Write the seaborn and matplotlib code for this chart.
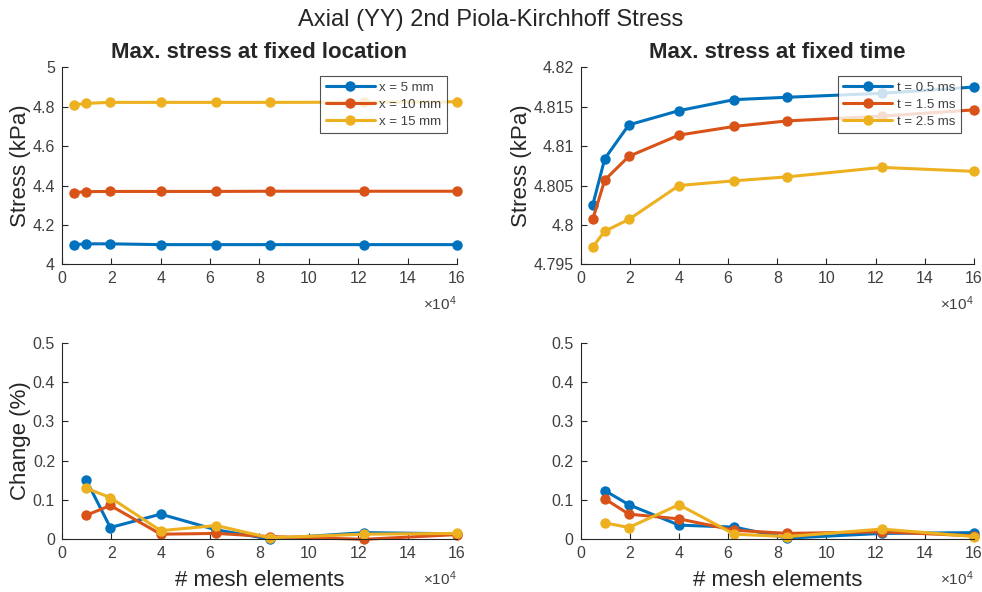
import numpy as np
import pandas as pd
import matplotlib
matplotlib.use("Agg")
import matplotlib.pyplot as plt
from matplotlib.ticker import FuncFormatter, FixedLocator
import seaborn as sns

# Mesh sizes (number of elements)
elements = [4900, 9801, 19600, 40000, 62500, 84100, 122500, 160000]

# Max. stress at fixed location (kPa)
loc_labels = ["x = 5 mm", "x = 10 mm", "x = 15 mm"]
stress_x5 = [4.100, 4.104, 4.104, 4.100, 4.100, 4.100, 4.100, 4.100]
stress_x10 = [4.364, 4.369, 4.370, 4.370, 4.370, 4.371, 4.371, 4.371]
stress_x15 = [4.809, 4.817, 4.822, 4.822, 4.822, 4.822, 4.823, 4.825]

# Max. stress at fixed time (kPa)
time_labels = ["t = 0.5 ms", "t = 1.5 ms", "t = 2.5 ms"]
stress_t05 = [4.8025, 4.8084, 4.8127, 4.8145, 4.8159, 4.8162, 4.8167, 4.8175]
stress_t15 = [4.8007, 4.8057, 4.8087, 4.8114, 4.8125, 4.8132, 4.8138, 4.8146]
stress_t25 = [4.7972, 4.7992, 4.8007, 4.8050, 4.8056, 4.8061, 4.8073, 4.8068]

# Relative change between successive meshes (%)
change_x5 = [0.151, 0.030, 0.064, 0.024, 0.001, 0.017, 0.014]
change_x10 = [0.061, 0.086, 0.013, 0.015, 0.007, 0.000, 0.012]
change_x15 = [0.130, 0.106, 0.022, 0.035, 0.004, 0.013, 0.015]
change_t05 = [0.124, 0.088, 0.036, 0.031, 0.003, 0.015, 0.017]
change_t15 = [0.103, 0.064, 0.052, 0.023, 0.015, 0.019, 0.009]
change_t25 = [0.042, 0.030, 0.088, 0.013, 0.007, 0.026, 0.007]

colors = ["#0072BD", "#D95319", "#EDB120"]

sns.set_style("white")
plt.rcParams["font.family"] = ["Liberation Sans", "DejaVu Sans"]
plt.rcParams["mathtext.fontset"] = "custom"
plt.rcParams["mathtext.rm"] = "Liberation Sans"
plt.rcParams["mathtext.it"] = "Liberation Sans:italic"

axis_col = "#262626"
tick_col = "#404040"


def long_frame(x, series, labels, col):
    rows = []
    for lab, vals in zip(labels, series):
        for xi, v in zip(x, vals):
            rows.append({"elements": xi, col: v, "series": lab})
    return pd.DataFrame(rows)


def style_axes(ax, yticks, ylabels, ylim):
    ax.set_xlim(0, 160000)
    ax.set_ylim(*ylim)
    ax.xaxis.set_major_locator(FixedLocator(np.arange(0, 160001, 20000)))
    ax.xaxis.set_major_formatter(FuncFormatter(lambda v, p: f"{v/1e4:g}"))
    ax.set_yticks(yticks)
    ax.set_yticklabels(ylabels)
    for s in ["top", "right"]:
        ax.spines[s].set_visible(False)
    for s in ["left", "bottom"]:
        ax.spines[s].set_color(axis_col)
        ax.spines[s].set_linewidth(0.8)
    ax.tick_params(direction="in", length=4, width=0.8, color=axis_col,
                   labelcolor=tick_col, labelsize=11.5, pad=5,
                   left=True, bottom=True)
    ax.text(1.0, -0.2, r"$\times10^{4}$", transform=ax.transAxes,
            ha="right", va="center", fontsize=11, color=tick_col)


def draw(ax, x, series, labels, col, legend):
    df = long_frame(x, series, labels, col)
    sns.lineplot(data=df, x="elements", y=col, hue="series",
                 hue_order=labels, palette=colors, marker="o",
                 markersize=7.5, markeredgewidth=0, linewidth=2.2,
                 legend=False, ax=ax)
    if legend:
        leg = ax.legend(handles=ax.lines[:3], labels=labels,
                        loc="upper right", bbox_to_anchor=legend,
                        borderaxespad=0, fontsize=9.5, frameon=True,
                        fancybox=False, edgecolor=axis_col,
                        handlelength=3.7, labelspacing=0.36,
                        borderpad=0.42, handletextpad=0.35)
        leg.get_frame().set_linewidth(0.8)
        for t in leg.get_texts():
            t.set_color(tick_col)
    ax.set_xlabel("")
    ax.set_ylabel("")


fig = plt.figure(figsize=(9.82, 5.92), dpi=100)
ax_tl = fig.add_axes([0.0631, 0.5535, 0.4022, 0.3328])
ax_tr = fig.add_axes([0.5913, 0.5535, 0.4005, 0.3328])
ax_bl = fig.add_axes([0.0631, 0.0890, 0.4022, 0.3322])
ax_br = fig.add_axes([0.5913, 0.0890, 0.4005, 0.3322])

draw(ax_tl, elements, [stress_x5, stress_x10, stress_x15], loc_labels,
     "stress", (0.975, 0.956))
style_axes(ax_tl, [4, 4.2, 4.4, 4.6, 4.8, 5],
           ["4", "4.2", "4.4", "4.6", "4.8", "5"], (4, 5))
ax_tl.set_title("Max. stress at fixed location", fontsize=16,
                fontweight="bold", pad=7)
ax_tl.set_ylabel("Stress (kPa)", fontsize=16, color=axis_col)
ax_tl.yaxis.set_label_coords(-0.078, 0.5)

draw(ax_tr, elements, [stress_t05, stress_t15, stress_t25], time_labels,
     "stress", (0.966, 0.956))
style_axes(ax_tr, [4.795, 4.8, 4.805, 4.81, 4.815, 4.82],
           ["4.795", "4.8", "4.805", "4.81", "4.815", "4.82"], (4.795, 4.82))
ax_tr.set_title("Max. stress at fixed time", fontsize=16,
                fontweight="bold", pad=7)
ax_tr.set_ylabel("Stress (kPa)", fontsize=16, color=axis_col)
ax_tr.yaxis.set_label_coords(-0.123, 0.5)

draw(ax_bl, elements[1:], [change_x5, change_x10, change_x15], loc_labels,
     "change", None)
style_axes(ax_bl, [0, 0.1, 0.2, 0.3, 0.4, 0.5],
           ["0", "0.1", "0.2", "0.3", "0.4", "0.5"], (0, 0.5))
ax_bl.set_ylabel("Change (%)", fontsize=16, color=axis_col)
ax_bl.yaxis.set_label_coords(-0.078, 0.5)
ax_bl.set_xlabel("# mesh elements", fontsize=16, color=axis_col, labelpad=6)

draw(ax_br, elements[1:], [change_t05, change_t15, change_t25], time_labels,
     "change", None)
style_axes(ax_br, [0, 0.1, 0.2, 0.3, 0.4, 0.5],
           ["0", "0.1", "0.2", "0.3", "0.4", "0.5"], (0, 0.5))
ax_br.set_xlabel("# mesh elements", fontsize=16, color=axis_col, labelpad=6)

for a in (ax_tl, ax_tr, ax_bl, ax_br):
    for ln in a.lines:
        ln.set_clip_on(False)

fig.text(0.5, 0.967, "Axial (YY) 2nd Piola-Kirchhoff Stress", ha="center",
         va="center", fontsize=17, color=axis_col)

fig.savefig("out.png", dpi=100, facecolor="white")
